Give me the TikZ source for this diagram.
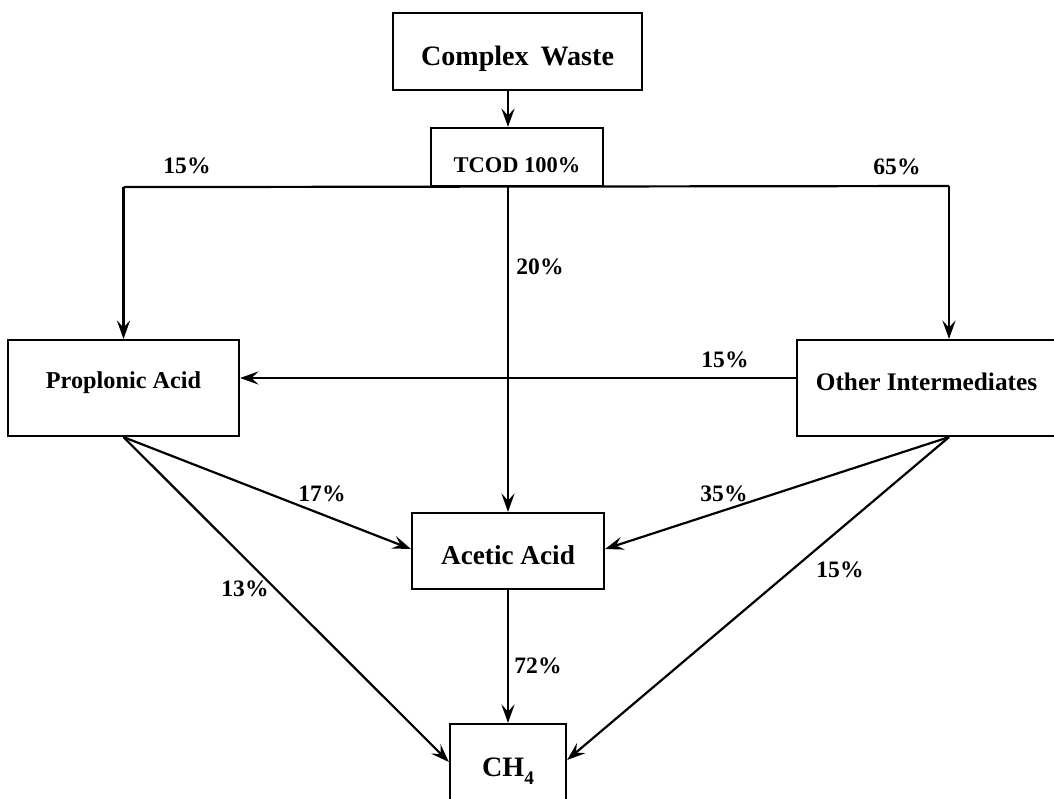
\documentclass[tikz,border=0pt]{standalone}
\usepackage{fontspec}
\setmainfont{Liberation Serif}
\usetikzlibrary{arrows.meta}

% raise a line of text so that its capitals sit centred on the node centre,
% then lift it by #1
\newcommand\capmid[2]{\raisebox{\dimexpr-0.33em+#1\relax}{#2}}

\begin{document}
\begin{tikzpicture}[x=0.02cm,y=-0.02cm,
  flow/.style={line width=1.25pt},
  arr/.style={flow,-{Stealth[length=10.5pt,width=7.5pt,inset=4pt]}},
  box/.style={draw,line width=1.25pt,inner sep=0pt,text height=0pt,text depth=0pt,font=\bfseries},
  pct/.style={inner sep=0pt,font=\bfseries\fontsize{13.4}{15}\selectfont}]

  \fill[white] (0,0) rectangle (1054,798);
  \useasboundingbox (0,0) rectangle (1054,798);

  % boxes
  \node[box,minimum width=4.98cm,minimum height=1.54cm,font=\bfseries\fontsize{16}{18}\selectfont]
    (cw) at (517.5,51.5) {\capmid{-0.09cm}{Complex\hspace{0.42em}Waste}};
  \node[box,minimum width=3.44cm,minimum height=1.16cm,font=\bfseries\fontsize{12.8}{15}\selectfont]
    (tcod) at (517,157) {\capmid{-0.17cm}{TCOD 100\%}};
  \node[box,minimum width=4.62cm,minimum height=1.92cm,font=\bfseries\fontsize{13.8}{16}\selectfont]
    (pa) at (123.5,388) {\capmid{0.16cm}{Proplonic Acid}};
  \node[box,minimum width=5.18cm,minimum height=1.92cm,font=\bfseries\fontsize{14.4}{16}\selectfont]
    (oi) at (926.5,388) {\capmid{0.12cm}{Other Intermediates}};
  \node[box,minimum width=3.84cm,minimum height=1.52cm,font=\bfseries\fontsize{15.5}{18}\selectfont]
    (aa) at (508,551) {\capmid{-0.1cm}{Acetic Acid}};
  \node[box,minimum width=2.32cm,minimum height=1.88cm,font=\bfseries\fontsize{16}{18}\selectfont]
    (ch) at (508,771) {\capmid{0.08cm}{CH\raisebox{-4.5pt}{\fontsize{11}{12}\selectfont 4}}};

  % junctions of the distribution line under TCOD
  \coordinate (lj) at (pa.north |- tcod.south);
  \coordinate (rj) at (949,186);
  \coordinate (ob) at (rj |- oi.south);

  % connectors
  \draw[arr] (cw.south -| aa.north) -- (tcod.north -| aa.north);
  \draw[flow] (lj) -- (rj);
  \draw[arr] (lj) -- (pa.north);
  \draw[arr] (rj) -- (rj |- oi.north);
  \draw[arr] (aa.north |- tcod.south) -- (aa.north);
  \draw[arr] ([yshift=0.2cm]oi.west) -- ([yshift=0.2cm]pa.east);
  \draw[arr] (pa.south) -- ([yshift=0.04cm]aa.west);
  \draw[arr] (pa.south) -- ([yshift=0.18cm]ch.west);
  \draw[arr] (ob) -- ([yshift=0.04cm]aa.east);
  \draw[arr] (ob) -- ([yshift=0.22cm]ch.east);
  \draw[arr] (aa.south) -- (ch.north);

  % shares of TCOD
  \node[pct] (p15a) at (187,166) {15\%};
  \node[pct] (p65)  at (897,167) {65\%};
  \node[pct] (p20)  at (540,267) {20\%};
  \node[pct] (p15b) at (725,360) {15\%};
  \node[pct] (p17)  at (322,494) {17\%};
  \node[pct] (p35)  at (724,494) {35\%};
  \node[pct] (p13)  at (245,589) {13\%};
  \node[pct] (p15c) at (840,570) {15\%};
  \node[pct] (p72)  at (538,666) {72\%};
\end{tikzpicture}
\end{document}
